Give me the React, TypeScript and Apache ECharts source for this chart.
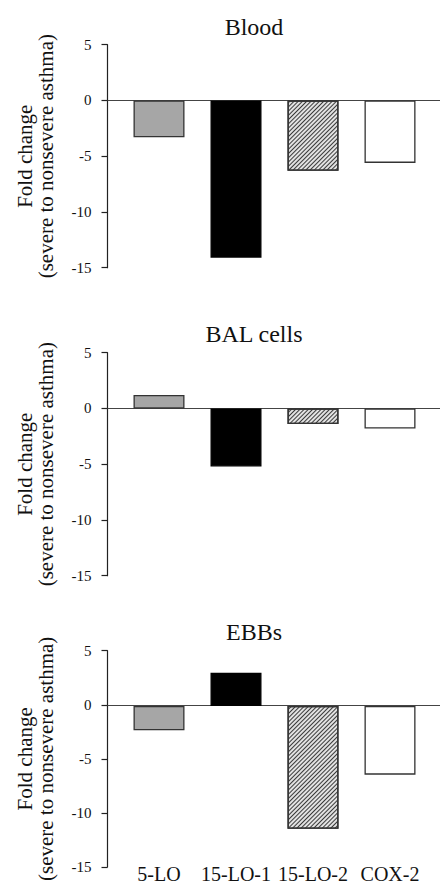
import React, { useEffect, useRef } from "react";
import * as echarts from "echarts";

const categories = ["5-LO", "15-LO-1", "15-LO-2", "COX-2"];
const panelTitles = ["Blood", "BAL cells", "EBBs"];
const bloodValues = [-3.3, -14.1, -6.3, -5.6];
const balValues = [1.2, -5.2, -1.4, -1.8];
const ebbValues = [-2.2, 3.0, -11.1, -6.2];
const yTicks = { min: -15, max: 5, interval: 5 };
const yAxisName = "Fold change\n(severe to nonsevere asthma)";

const FONT = "Liberation Serif";
const panelTops = [44.7, 352.7, 650.7];
const panelHeight = 223;
const titleTops = [10, 317, 615];

export default function App() {
  const ref = useRef<HTMLDivElement>(null);
  useEffect(() => {
    document.body.style.margin = "0";
    const chart = echarts.init(ref.current!, null, { renderer: "svg" });
    const allValues = [bloodValues, balValues, ebbValues];
    const barStyles = [
      { color: "#a6a6a6", borderColor: "#333", borderWidth: 1.3 },
      { color: "#000000", borderColor: "#000", borderWidth: 1.3 },
      {
        color: "#e2e2e2",
        borderColor: "#333",
        borderWidth: 1.3,
        decal: {
          symbol: "rect",
          symbolSize: 1,
          dashArrayX: [1, 0],
          dashArrayY: [1, 2],
          rotation: -Math.PI / 4,
          color: "#3a3a3a",
        },
      },
      { color: "#ffffff", borderColor: "#333", borderWidth: 1.3 },
    ];
    const grids: any[] = [];
    const xAxes: any[] = [];
    const yAxes: any[] = [];
    const series: any[] = [];
    const titles: any[] = [];
    panelTitles.forEach((t, i) => {
      titles.push({
        text: t,
        left: 249,
        top: titleTops[i],
        textAlign: "center",
        textStyle: { fontFamily: FONT, fontSize: 24, fontWeight: "normal", color: "#111" },
      });
      grids.push({ left: 107.5, right: 0, top: panelTops[i], height: panelHeight });
      grids.push({ left: 120.5, width: 308, top: panelTops[i], height: panelHeight });
      xAxes.push({
        type: "value",
        gridIndex: 2 * i,
        min: 0,
        max: 1,
        axisLine: { show: true, onZero: true, lineStyle: { color: "#444", width: 1.2 } },
        axisTick: { show: false },
        axisLabel: { show: false },
        splitLine: { show: false },
      });
      xAxes.push({
        type: "category",
        gridIndex: 2 * i + 1,
        data: categories,
        axisLine: { show: false },
        axisTick: { show: false },
        axisLabel: {
          show: i === 2,
          interval: 0,
          hideOverlap: false,
          margin: 2,
          verticalAlign: "middle",
          fontFamily: FONT,
          fontSize: 20,
          color: "#111",
        },
      });
      yAxes.push({
        type: "value",
        gridIndex: 2 * i,
        min: yTicks.min,
        max: yTicks.max,
        interval: yTicks.interval,
        axisLine: { show: true, lineStyle: { color: "#222", width: 1.2 } },
        axisTick: { show: true, inside: false, length: 6, lineStyle: { color: "#222", width: 1.2 } },
        axisLabel: { margin: 16, fontFamily: FONT, fontSize: 15, color: "#111" },
        splitLine: { show: false },
        name: yAxisName,
        nameLocation: "middle",
        nameGap: 51,
        nameTextStyle: { fontFamily: FONT, fontSize: 21, lineHeight: 21, color: "#111" },
      });
      yAxes.push({
        type: "value",
        gridIndex: 2 * i + 1,
        min: yTicks.min,
        max: yTicks.max,
        interval: yTicks.interval,
        show: false,
      });
      series.push({
        type: "bar",
        xAxisIndex: 2 * i + 1,
        yAxisIndex: 2 * i + 1,
        barWidth: 51,
        data: allValues[i].map((v, k) => ({ value: v, itemStyle: barStyles[k] })),
      });
    });
    chart.setOption({
      animation: false,
      title: titles,
      grid: grids,
      xAxis: xAxes,
      yAxis: yAxes,
      series,
    });
    return () => chart.dispose();
  }, []);
  return <div ref={ref} style={{ width: 440, height: 884 }} />;
}
